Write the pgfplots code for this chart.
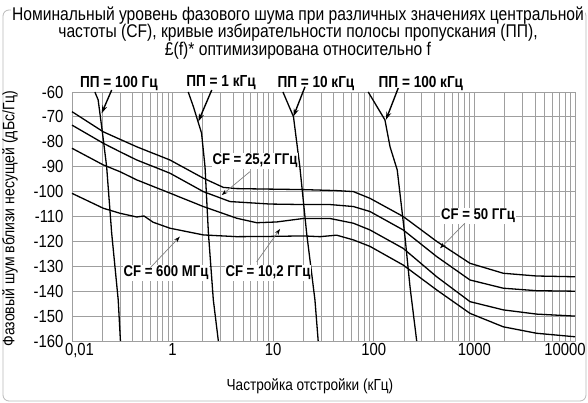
\documentclass[border=0pt]{standalone}
\usepackage{fontspec}
\setmainfont{Liberation Sans}[FakeStretch=0.85]
\usepackage{pgfplots}
\pgfplotsset{compat=1.18}
\usetikzlibrary{arrows.meta}

\begin{document}
\begin{tikzpicture}[x=1bp,y=1bp,
    curve/.style={black, no marks, line width=1.3bp}]
  \useasboundingbox (0bp,0bp) rectangle (588bp,403bp);
  \draw[gray!55, line width=0.8bp, rounded corners=6bp] (3bp,2bp) rectangle (586bp,393bp);
  \node[fill=white, align=center, inner sep=1bp,
        font=\fontsize{18.4bp}{17.5bp}\selectfont] at (298bp,370bp)
    {Номинальный уровень фазового шума при различных значениях центральной\\
     частоты (CF), кривые избирательности полосы пропускания (ПП),\\
     £(f)* оптимизирована относительно f};

  \begin{axis}[
      at={(72bp,62bp)}, anchor=south west,
      scale only axis, width=503bp, height=249bp,
      xmode=log, xmin=0.1, xmax=10000,
      ymin=-160, ymax=-60,
      xtick={0.1,1,10,100,1000,10000},
      xticklabels={{\hspace*{15bp}0,01},1,10,100,1000,{10000\hspace*{20bp}}},
      minor xtick={0.2,0.3,0.4,0.5,0.6,0.7,0.8,0.9,
                   2,3,4,5,6,7,8,9,20,30,40,50,60,70,80,90,
                   200,300,400,500,600,700,800,900,
                   2000,3000,4000,5000,6000,7000,8000,9000},
      ytick={-160,-150,...,-60},
      yticklabels={-160,-150,-140,-130,-120,-110,-100,-90,-80,-70,-60},
      grid=both,
      major grid style={gray!75, line width=0.8bp},
      minor grid style={gray!75, line width=0.8bp},
      major tick length=0pt, minor tick length=0pt,
      axis line style={gray!75, line width=0.8bp},
      tick label style={font=\fontsize{17.5bp}{16bp}\selectfont},
      yticklabel style={xshift=-5bp},
      xticklabel style={yshift=1bp},
      xlabel={Частройка отстройки (кГц)},
      xlabel style={at={(axis description cs:0.473,-0.1807)}, anchor=center,
                    font=\fontsize{16bp}{16bp}\selectfont},
      ylabel={Фазовый шум вблизи несущей (дБс/Гц)},
      ylabel style={at={(axis description cs:-0.1233,0.492)}, anchor=center,
                    font=\fontsize{16.5bp}{16bp}\selectfont},
      clip=false,
    ]
    % CF = 50 GHz
    \addplot[curve] coordinates {
      (0.1,-67.9) (0.205,-76) (0.3,-79) (0.44,-82) (0.94,-87.3) (2.02,-94.6)
      (3.19,-98.3) (4.34,-98.8) (9.3,-99) (20,-99.2) (29.2,-99.4) (42.7,-99.6)
      (62.7,-100) (91.6,-102.7) (196,-110) (422,-120) (904,-128.8)
      (1937,-132.8) (4158,-133.9) (10000,-134.2)
    };
    % CF = 25.2 GHz
    \addplot[curve] coordinates {
      (0.1,-73.3) (0.205,-80.6) (0.3,-84) (0.44,-87.3) (0.94,-92.6) (2.02,-100)
      (3.72,-104) (9.3,-105) (20,-105.2) (36.7,-105.2) (62.7,-106) (91.6,-108)
      (196,-115.4) (422,-126.1) (904,-135.5) (1937,-138.8) (4158,-139.8)
      (10000,-140)
    };
    % CF = 10.2 GHz
    \addplot[curve] coordinates {
      (0.1,-82.6) (0.205,-89.3) (0.3,-92) (0.44,-95.3) (0.94,-100.6) (2.02,-106)
      (4.34,-110.7) (6.85,-112.5) (10.8,-112.2) (19.9,-110.8) (36.7,-110.8)
      (62.7,-112.7) (91.6,-115.4) (196,-122.8) (422,-134.2) (904,-144.2)
      (1937,-147.5) (4158,-149.2) (10000,-150)
    };
    % CF = 600 MHz
    \addplot[curve] coordinates {
      (0.1,-100.7) (0.205,-106.7) (0.3,-108.7) (0.44,-110.2) (0.52,-109.8)
      (0.64,-112.3) (0.94,-114.7) (2.02,-117.4) (4.34,-118.1) (9.3,-118)
      (20,-117.8) (29.2,-118.1) (42.7,-117.5) (62.7,-119.4) (91.6,-122)
      (196,-129.5) (422,-139.5) (904,-148.9) (1937,-154.3) (4158,-156.9)
      (10000,-158.3)
    };
    % bandwidth selectivity curves
    \addplot[curve] coordinates {(0.169,-60) (0.182,-63.2) (0.201,-76.5) (0.221,-90)
      (0.248,-116.7) (0.288,-143.5) (0.303,-160)};
    \addplot[curve] coordinates {(1.43,-60) (1.61,-65.9) (1.94,-76.5) (2.1,-90)
      (2.27,-116.7) (2.54,-143.5) (2.85,-160)};
    \addplot[curve] coordinates {(12.5,-60) (15.9,-69.9) (18.4,-90) (21.5,-116.7)
      (26,-143.5) (28,-160)};
    \addplot[curve] coordinates {(88,-60) (129,-71.2) (145,-82) (171,-91.3)
      (204,-118) (229,-138.2) (267,-160)};

    % bandwidth labels and arrows
    \begin{scope}[font=\bfseries\fontsize{16bp}{16bp}\selectfont]
      \node at (axis cs:0.293,-56.4) {ПП = 100 Гц};
      \node at (axis cs:3.03,-56.4) {ПП = 1 кГц};
      \node at (axis cs:26.6,-56.4) {ПП = 10 кГц};
      \node at (axis cs:294,-56.4) {ПП = 100 кГц};
    \end{scope}
    \begin{scope}[line width=1.4bp, -{Stealth[length=8bp,width=5bp]}]
      \draw (axis cs:0.248,-59.2) -- (axis cs:0.197,-68.6);
      \draw (axis cs:2.45,-59.2) -- (axis cs:1.80,-71.9);
      \draw (axis cs:20.7,-57.9) -- (axis cs:15.85,-69.9);
      \draw (axis cs:175,-58.4) -- (axis cs:132,-71.2);
    \end{scope}

    % centre frequency labels
    \begin{scope}[font=\bfseries\fontsize{15.5bp}{16bp}\selectfont]
      \node[fill=white, inner sep=1bp] at (axis cs:6.59,-87.7) {CF = 25,2 ГГц};
      \node[fill=white, inner sep=1bp] at (axis cs:0.86,-132.7) {CF = 600 МГц};
      \node[fill=white, inner sep=1bp] at (axis cs:8.87,-132.7) {CF = 10,2 ГГц};
      \node[fill=white, inner sep=1bp] at (axis cs:1086,-109.8) {CF = 50 ГГц};
    \end{scope}
    \begin{scope}[gray, line width=0.7bp, -{Stealth[length=6bp,width=4bp,black]}]
      \draw (axis cs:5.87,-92) -- (axis cs:3.08,-101.4);
      \draw (axis cs:0.596,-130.7) -- (axis cs:1.18,-118.1);
      \draw (axis cs:6.85,-128.2) -- (axis cs:11.7,-115);
      \draw (axis cs:805,-112.7) -- (axis cs:455,-122.8);
    \end{scope}
  \end{axis}
\end{tikzpicture}
\end{document}
